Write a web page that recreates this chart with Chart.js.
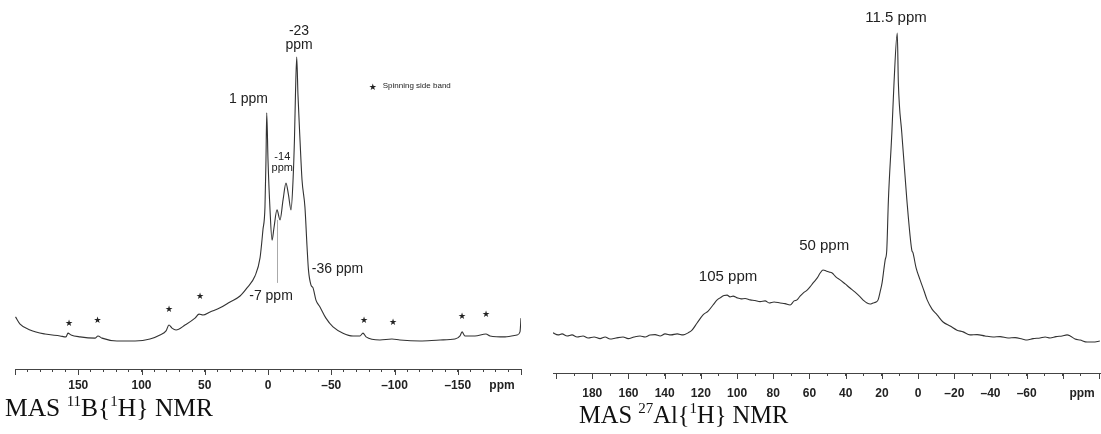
<!DOCTYPE html>
<html>
<head>
<meta charset="utf-8">
<script src="https://cdn.jsdelivr.net/npm/chart.js@4.4.1/dist/chart.umd.min.js"></script>
<style>
  body { margin: 0; background: #fff; }
  #wrap { position: relative; width: 1101px; height: 434px; overflow: hidden; }
  canvas { position: absolute; top: 0; }
  .title {
    position: absolute;
    font-family: "Liberation Serif", "Times New Roman", serif;
    font-size: 25px;
    line-height: 25px;
    color: #111;
    white-space: nowrap;
  }
  .title sup { font-size: 15px; vertical-align: baseline; position: relative; top: -10px; }
</style>
</head>
<body>
<div id="wrap">
  <canvas id="chart-b" width="540" height="399" style="left:0"></canvas>
  <canvas id="chart-al" width="556" height="403" style="left:545px"></canvas>
  <div class="title" style="left:5px; top:395px; font-size:25.5px">MAS <sup>11</sup>B{<sup>1</sup>H} NMR</div>
  <div class="title" style="left:579px; top:402px; font-size:24.5px">MAS <sup>27</sup>Al{<sup>1</sup>H} NMR</div>
</div>
<script>
// 11B spectrum (ppm, relative intensity)
const b_ppm = [199.6, 196.0, 188.1, 176.3, 164.4, 159.7, 158.1, 155.7, 148.6, 136.8, 134.4, 131.2,
  119.4, 105.1, 93.3, 85.4, 80.6, 78.3, 75.9, 72.7, 65.6, 57.7, 54.5, 51.4, 45.8, 37.9, 30.0,
  22.1, 16.6, 10.3, 6.3, 4.0, 2.4, 1.6, 1.0, 0.0, -1.6, -3.2, -4.7, -7.1, -9.5, -11.9, -14.2,
  -16.2, -18.2, -19.8, -20.9, -21.7, -22.7, -23.7, -25.3, -26.9, -29.2, -30.8, -32.0, -34.0,
  -35.6, -37.9, -41.1, -45.8, -51.4, -59.3, -67.2, -72.7, -75.1, -77.5, -88.5, -98.0, -104.3,
  -120.2, -136.0, -147.8, -151.8, -153.4, -155.7, -163.6, -172.3, -175.5, -187.4, -196.8,
  -199.2, -200];
const b_int = [16.7, 14.4, 12.5, 11.2, 10.6, 10.3, 11.5, 10.9, 10.3, 9.9, 10.6, 9.9,
  9.0, 9.0, 9.6, 10.9, 12.2, 14.1, 13.1, 12.5, 14.1, 16.3, 17.6, 17.3, 18.3, 19.6, 21.5,
  23.4, 26.0, 29.8, 35.6, 44.6, 51.9, 67.0, 82.1, 67.0, 51.0, 41.3, 45.2, 51.0, 47.8, 54.2, 59.6,
  55.8, 51.0, 60.6, 73.4, 87.8, 100, 87.8, 73.4, 60.6, 51.9, 39.7, 31.7, 26.9,
  26.0, 22.1, 19.9, 16.3, 13.5, 11.5, 10.6, 10.6, 11.5, 10.3, 9.3, 9.6, 9.3,
  9.0, 9.3, 9.6, 10.6, 11.9, 10.6, 10.6, 11.2, 10.6, 10.3, 10.9,
  11.9, 16.3];

// 27Al spectrum (ppm, relative intensity)
const al_ppm = [201.7, 198.9, 196.7, 193.9, 191.2, 188.4, 185.1, 182.3, 179.0, 175.7, 172.9, 170.2,
  166.9, 163.0, 160.2, 156.9, 153.6, 150.8, 148.1, 145.3, 142.5, 139.8, 136.5, 133.1, 129.8,
  127.1, 124.9, 122.1, 118.8, 116.0, 113.3, 111.0, 109.4, 107.2, 105.5, 103.9, 102.2, 100.0,
  97.8, 95.6, 92.8, 90.1, 87.3, 84.5, 82.3, 79.6, 76.2, 73.5, 70.7, 68.5, 66.9, 65.2, 63.5,
  61.3, 59.7, 58.0, 55.8, 54.1, 52.5, 50.8, 49.2, 47.5, 45.3, 43.1, 40.3, 37.6, 34.8, 32.0,
  29.8, 28.2, 26.5, 24.9, 23.2, 22.1, 21.0, 19.9, 18.8, 18.2, 17.3, 16.4, 14.5, 13.3, 11.5,
  10.9, 9.0, 6.2, 3.5, 2.8, 1.1, -1.1, -3.3, -5.0, -7.7, -10.5, -13.8, -17.7, -21.5, -24.9,
  -28.7, -32.6, -37.0, -41.4, -45.3, -49.7, -53.6, -57.5, -60.2, -63.5, -67.4, -70.2, -72.9,
  -76.2, -79.6, -82.3, -84.0, -86.7, -89.5, -93.4, -96.7, -100.4];
const al_int = [11.8, 11.2, 11.5, 10.9, 11.2, 10.6, 10.9, 10.3, 10.6, 10.1, 10.6, 10.0,
  10.3, 10.6, 10.1, 10.6, 10.9, 10.6, 11.2, 11.3, 10.9, 11.5, 11.2, 11.5, 11.2,
  11.8, 12.6, 14.7, 17.1, 18.2, 20.0, 21.5, 22.1, 22.8, 22.9, 22.4, 22.6, 22.1,
  21.8, 21.9, 21.5, 21.3, 21.0, 21.2, 20.6, 20.9, 20.6, 20.4, 20.0, 21.2, 21.5, 22.6, 23.5,
  24.4, 25.3, 26.5, 27.9, 29.4, 30.3, 30.0, 29.7, 29.4, 28.2, 27.4, 26.2, 25.0, 23.8, 22.4,
  21.2, 20.6, 20.3, 20.6, 20.9, 21.5, 23.8, 26.5, 30.9, 33.2, 36.2, 50.9, 70.6, 85.3, 100,
  85.3, 70.6, 50.9, 36.2, 35.3, 30.9, 27.4, 24.1, 21.5, 18.8, 17.1, 15.0, 13.8, 12.6, 12.1,
  11.2, 11.3, 10.9, 10.6, 10.7, 10.3, 10.4, 10.0, 9.7, 10.1, 10.3, 10.6, 10.3,
  10.7, 10.9, 11.2, 10.9, 10.0, 9.7, 9.1, 9.1, 9.4];

const b_ticks = [150, 100, 50, 0, -50, -100, -150];
const al_ticks = [180, 160, 140, 120, 100, 80, 60, 40, 20, 0, -20, -40, -60];

// spinning side bands (ppm, intensity of the star mark)
const b_band_ppm = [157.3, 134.7, 78.3, 53.8, -75.9, -98.8, -153.4, -172.3];
const b_band_int = [14.4, 15.4, 18.9, 23.2, 15.5, 14.7, 16.7, 17.3];

const sans = '"Liberation Sans", Arial, sans-serif';
const fmt = v => v < 0 ? '\u2013' + Math.abs(v) : String(v);

const decor = cfg => ({
    id: 'decor',
    afterDraw(chart) {
        const { ctx } = chart;
        const xs = chart.scales.x, ys = chart.scales.y;
        const base = xs.top;
        ctx.save();

        // longer major ticks
        ctx.strokeStyle = '#444';
        ctx.lineWidth = 1;
        xs.ticks.forEach(t => {
            if (Math.round(t.value) % cfg.major !== 0) return;
            const px = Math.round(xs.getPixelForValue(t.value)) + 0.5;
            ctx.beginPath();
            ctx.moveTo(px, base);
            ctx.lineTo(px, base + 6);
            ctx.stroke();
        });

        // unit label
        ctx.fillStyle = '#222';
        ctx.font = 'bold 12px ' + sans;
        ctx.textAlign = 'center';
        ctx.textBaseline = 'middle';
        ctx.fillText('ppm', xs.getPixelForValue(cfg.unitAt), base + 3 + cfg.pad + 7.2);

        // guide line
        (cfg.lines || []).forEach(l => {
            ctx.strokeStyle = '#aaa';
            const px = Math.round(xs.getPixelForValue(l.x)) + 0.5;
            ctx.beginPath();
            ctx.moveTo(px, ys.getPixelForValue(l.y0));
            ctx.lineTo(px, ys.getPixelForValue(l.y1));
            ctx.stroke();
        });

        // peak labels
        cfg.notes.forEach(n => {
            ctx.font = n.size + 'px ' + sans;
            ctx.fillStyle = '#222';
            ctx.textAlign = n.align || 'center';
            n.text.split('\n').forEach((line, i) => {
                ctx.fillText(line, xs.getPixelForValue(n.x), ys.getPixelForValue(n.y) + i * n.size);
            });
        });

        // side band stars
        ctx.font = '9px "DejaVu Sans"';
        ctx.textAlign = 'center';
        (cfg.stars || []).forEach(s => {
            ctx.fillText('\u2605', xs.getPixelForValue(s.x), ys.getPixelForValue(s.y));
        });
        ctx.restore();
    }
});

const make_chart = (id, ppm, inten, opt) => new Chart(document.getElementById(id), {
    type: 'line',
    data: {
        datasets: [{
            data: ppm.map((x, i) => ({ x, y: inten[i] })),
            borderColor: '#333',
            borderWidth: 1.1,
            pointRadius: 0,
            cubicInterpolationMode: 'monotone',
        }],
    },
    options: {
        animation: false,
        responsive: false,
        layout: { autoPadding: false, padding: { left: opt.padL, right: opt.padR, top: 0, bottom: 0 } },
        scales: {
            x: {
                type: 'linear',
                reverse: true,
                min: opt.min,
                max: opt.max,
                afterFit: s => { s.height = 30; s.paddingLeft = 0; s.paddingRight = 0; },
                grid: { drawOnChartArea: false, tickLength: 3, tickColor: '#444' },
                border: { color: '#444', width: 1 },
                ticks: {
                    stepSize: 10,
                    autoSkip: false,
                    maxRotation: 0,
                    includeBounds: false,
                    padding: opt.pad,
                    color: '#222',
                    font: { family: sans, size: 12, weight: 'bold' },
                    callback: v => opt.labels.includes(Math.round(v)) ? fmt(Math.round(v)) : '',
                },
            },
            y: { display: false, min: 0, max: opt.ymax },
        },
        plugins: { legend: { display: false }, tooltip: { enabled: false } },
    },
    plugins: [decor(opt.decor)],
});

make_chart('chart-b', b_ppm, b_int, {
    min: -200, max: 200, padL: 15, padR: 19, pad: 6, ymax: 118.3, labels: b_ticks,
    decor: {
        major: 50, unitAt: -185, pad: 6,
        lines: [{ x: -7.4, y0: 47.8, y1: 27.6 }],
        notes: [
            { text: '1 ppm', x: 15.4, y: 86.5, size: 14 },
            { text: '-23\nppm', x: -24.5, y: 108.3, size: 14 },
            { text: '-14\nppm', x: -11.3, y: 68.1, size: 11 },
            { text: '-36 ppm', x: -54.9, y: 32.1, size: 14 },
            { text: '-7 ppm', x: -2.4, y: 23.2, size: 14 },
            { text: 'Spinning side band', x: -90.7, y: 90.7, size: 8, align: 'left' },
        ],
        stars: b_band_ppm.map((x, i) => ({ x, y: b_band_int[i] })).concat([{ x: -82.8, y: 90.3 }]),
    },
});

make_chart('chart-al', al_ppm, al_int, {
    min: -100.5, max: 201.7, padL: 8, padR: 1, pad: 10, ymax: 109.7, labels: al_ticks,
    decor: {
        major: 20, unitAt: -90.6, pad: 10,
        notes: [
            { text: '11.5 ppm', x: 12.2, y: 104.4, size: 15 },
            { text: '50 ppm', x: 51.9, y: 37.4, size: 15 },
            { text: '105 ppm', x: 105.0, y: 28.4, size: 15 },
        ],
    },
});
</script>
</body>
</html>
